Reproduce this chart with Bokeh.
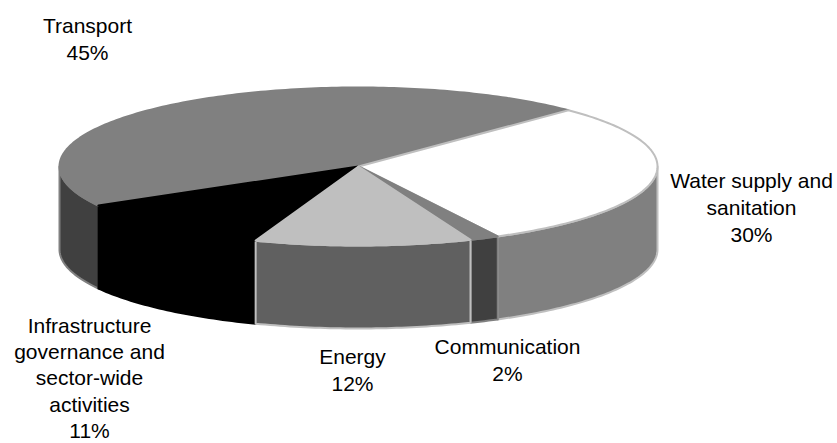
import math
from bokeh.plotting import figure
from bokeh.embed import file_html
from bokeh.resources import INLINE
from bokeh.core.properties import value

# Data, clockwise starting from the Water / Transport boundary
categories = ["Water supply and sanitation", "Communication", "Energy",
              "Infrastructure governance and sector-wide activities", "Transport"]
shares = [29.9, 1.6, 11.7, 11.2, 45.6]
percent_labels = ["30%", "2%", "12%", "11%", "45%"]

# Style per slice
top_colors = ["#ffffff", "#808080", "#bfbfbf", "#000000", "#808080"]
side_colors = ["#808080", "#404040", "#606060", "#000000", "#404040"]
edge_colors = ["#bfbfbf", "#808080", "#bfbfbf", "#000000", "#808080"]

# Pie geometry, in page pixels
CX, CY, RX, RY, DEPTH = 358, 166, 299, 79, 83
START = 44.6
DRAW_ORDER = [4, 3, 0, 1, 2]

# Label layout: lines, centre x, first baseline, line height
label_lines = [["Water supply and", "sanitation"], ["Communication"], ["Energy"],
               ["Infrastructure", "governance and", "sector-wide", "activities"], ["Transport"]]
label_x = [751, 507, 352, 89, 87]
label_y = [187, 353, 363, 332, 32]
label_lh = [27.2, 27.2, 27.2, 26.4, 27.2]
TEXT_DY = -7.5


def rim(t0, t1, dy=0.0):
    n = max(2, int(abs(t1 - t0)) + 2)
    ts = [t0 + (t1 - t0) * i / (n - 1) for i in range(n)]
    return ([CX + RX * math.sin(math.radians(t)) for t in ts],
            [CY - RY * math.cos(math.radians(t)) + dy for t in ts])


W, H = 837, 443
p = figure(width=W, height=H, x_range=(0, W), y_range=(H, 0),
           output_backend="svg", toolbar_location=None, min_border=0)
p.axis.visible = False
p.grid.visible = False
p.outline_line_color = None
p.background_fill_color = "#ffffff"
p.border_fill_color = "#ffffff"

bounds = [START]
for s in shares:
    bounds.append(bounds[-1] + s * 3.6)

side_x, side_y, side_fill, side_line = [], [], [], []
top_x, top_y, top_fill, top_line = [], [], [], []
for i in DRAW_ORDER:
    t0, t1 = bounds[i], bounds[i + 1]
    a, b = max(t0, 90), min(t1, 270)
    if b > a:
        x1, y1 = rim(a, b)
        x2, y2 = rim(b, a, DEPTH)
        side_x.append(x1 + x2)
        side_y.append(y1 + y2)
        side_fill.append(side_colors[i])
        side_line.append(edge_colors[i])
    x, y = rim(t0, t1)
    top_x.append([CX] + x)
    top_y.append([CY] + y)
    top_fill.append(top_colors[i])
    top_line.append(edge_colors[i])

p.patches(side_x, side_y, fill_color=side_fill, line_color=side_line, line_width=2, line_join="round")
p.patches(top_x, top_y, fill_color=top_fill, line_color=top_line, line_width=2, line_join="round")

tx, ty, tt = [], [], []
for lines, pct, x0, y0, lh in zip(label_lines, percent_labels, label_x, label_y, label_lh):
    for k, line in enumerate(lines + [pct]):
        tx.append(x0)
        ty.append(y0 + k * lh + TEXT_DY)
        tt.append(line)
p.text(tx, ty, text=tt, text_font=value("Liberation Sans"), text_font_size="21px",
       text_color="#000000", text_align="center", text_baseline="alphabetic")

open("out.html", "w").write(file_html(p, INLINE))
